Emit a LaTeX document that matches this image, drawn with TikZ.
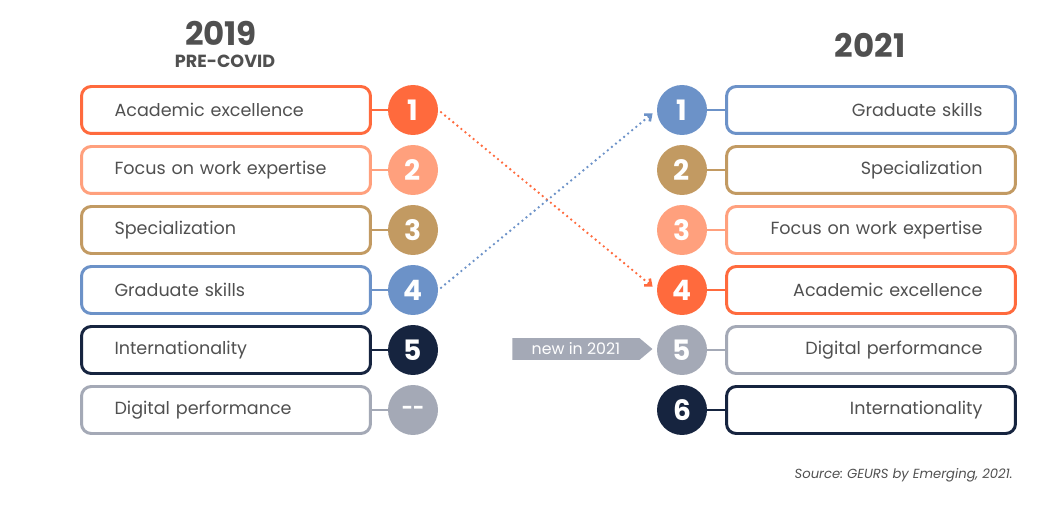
\documentclass[tikz,border=0pt]{standalone}
\usepackage{fontspec}
\setmainfont{Poppins}
\frenchspacing
\usetikzlibrary{arrows.meta, shapes.symbols, positioning}
\definecolor{acadcol}{RGB}{255,106,61}
\definecolor{workcol}{RGB}{255,160,125}
\definecolor{speccol}{RGB}{194,154,98}
\definecolor{gradcol}{RGB}{108,146,200}
\definecolor{intlcol}{RGB}{22,36,63}
\definecolor{digicol}{RGB}{164,169,182}
\definecolor{txtgray}{RGB}{80,80,80}

\begin{document}
\begin{tikzpicture}[
    x=0.02cm, y=-0.02cm,
    every node/.style={text=txtgray},
    item/.style={rectangle, rounded corners=5.5pt, draw, line width=1.7pt, fill=white, minimum width=5.78cm, minimum height=0.94cm, text width=4.46cm, inner xsep=0.66cm, font=\fontsize{10}{12}\selectfont},
    rank/.style={circle, minimum size=1cm, inner sep=0pt, text=white, font=\bfseries\fontsize{16}{16}\selectfont},
    link/.style={line width=1.7pt},
    move/.style={line width=1.5pt, dash pattern=on 0pt off 3pt, line cap=round, -{Straight Barb[length=3pt, width=5pt]}, shorten <=2pt, shorten >=3pt},
    tag/.style={signal, signal to=east, signal pointer angle=80, fill=digicol, text=white, minimum height=0.44cm, minimum width=2.8cm, inner sep=1pt, font=\fontsize{9}{10}\selectfont}
]
\useasboundingbox (0,0) rectangle (1053,516);

% Headers
\node[font=\bfseries\fontsize{18.5}{18}\selectfont] (y19) at (221,33) {2019};
\node[font=\bfseries\fontsize{10}{10}\selectfont] (pre) at (225,61) {PRE-COVID};
\node[font=\bfseries\fontsize{18.5}{18}\selectfont] (y21) at (870,45) {2021};

% 2019 ranking
\node[item, draw=acadcol, align=left] (a1) at (226,110) {Academic excellence};
\node[item, draw=workcol, align=left] (a2) at (226,170) {Focus on work expertise};
\node[item, draw=speccol, align=left] (a3) at (226,230) {Specialization};
\node[item, draw=gradcol, align=left] (a4) at (226,290) {Graduate skills};
\node[item, draw=intlcol, align=left] (a5) at (226,350) {Internationality};
\node[item, draw=digicol, align=left] (a6) at (226,410) {Digital performance};

\node[rank, fill=acadcol] (m1) at (413,110) {1};
\node[rank, fill=workcol] (m2) at (413,170) {2};
\node[rank, fill=speccol] (m3) at (413,230) {3};
\node[rank, fill=gradcol] (m4) at (413,290) {4};
\node[rank, fill=intlcol] (m5) at (413,350) {5};
\node[rank, fill=digicol, font=\bfseries\fontsize{11}{11}\selectfont] (m6) at (413,410) {-{}-};

\draw[link, acadcol] (a1.east) -- (m1.west);
\draw[link, workcol] (a2.east) -- (m2.west);
\draw[link, speccol] (a3.east) -- (m3.west);
\draw[link, gradcol] (a4.east) -- (m4.west);
\draw[link, intlcol] (a5.east) -- (m5.west);
\draw[link, digicol] (a6.east) -- (m6.west);

% 2021 ranking
\node[item, draw=gradcol, align=right] (b1) at (871,110) {Graduate skills};
\node[item, draw=speccol, align=right] (b2) at (871,170) {Specialization};
\node[item, draw=workcol, align=right] (b3) at (871,230) {Focus on work expertise};
\node[item, draw=acadcol, align=right] (b4) at (871,290) {Academic excellence};
\node[item, draw=digicol, align=right] (b5) at (871,350) {Digital performance};
\node[item, draw=intlcol, align=right] (b6) at (871,410) {Internationality};

\node[rank, fill=gradcol] (n1) at (682,110) {1};
\node[rank, fill=speccol] (n2) at (682,170) {2};
\node[rank, fill=workcol] (n3) at (682,230) {3};
\node[rank, fill=acadcol] (n4) at (682,290) {4};
\node[rank, fill=digicol] (n5) at (682,350) {5};
\node[rank, fill=intlcol] (n6) at (682,410) {6};

\draw[link, gradcol] (n1.east) -- (b1.west);
\draw[link, speccol] (n2.east) -- (b2.west);
\draw[link, workcol] (n3.east) -- (b3.west);
\draw[link, acadcol] (n4.east) -- (b4.west);
\draw[link, digicol] (n5.east) -- (b5.west);
\draw[link, intlcol] (n6.east) -- (b6.west);

% Moves between years
\draw[move, acadcol] (m1.east) -- (n4.west);
\draw[move, gradcol] (m4.east) -- (n1.west);

\node[tag, anchor=east] (new) at (653,349) {new in 2021};

% Source
\node[font=\itshape\fontsize{7.5}{8}\selectfont, anchor=east, inner sep=0pt] (src) at (1013,475) {Source: GEURS by Emerging, 2021.};
\end{tikzpicture}
\end{document}
